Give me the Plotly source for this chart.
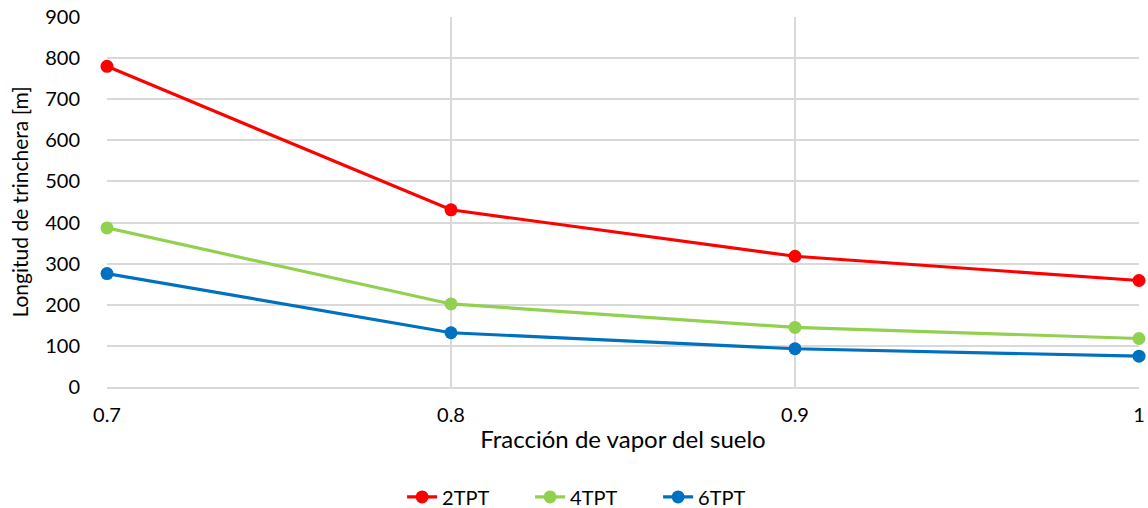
import plotly.graph_objects as go

x_vals = [0.7, 0.8, 0.9, 1.0]
x_labels = ["0.7", "0.8", "0.9", "1"]
series_names = ["2TPT", "4TPT", "6TPT"]
y_2tpt = [780, 431, 318, 259]
y_4tpt = [387, 202, 145, 118]
y_6tpt = [276, 132, 93, 75]
colors = ["#FF0000", "#92D050", "#0070C0"]

FONT = "Lato, 'Open Sans', sans-serif"

fig = go.Figure()
for name, ys, c in zip(series_names, [y_2tpt, y_4tpt, y_6tpt], colors):
    fig.add_trace(go.Scatter(
        x=x_vals, y=ys, name=name, mode="lines+markers",
        line=dict(color=c, width=3.2),
        marker=dict(color=c, size=13),
        cliponaxis=False,
    ))

fig.update_layout(
    width=1148, height=508,
    margin=dict(l=107, r=9, t=17, b=121, autoexpand=False),
    plot_bgcolor="white", paper_bgcolor="white",
    font=dict(family=FONT, size=20, color="#000000"),
    showlegend=True,
    legend=dict(orientation="h", x=0.472, xanchor="center", y=-0.297, yanchor="middle",
                font=dict(size=20), itemwidth=30, entrywidth=83, entrywidthmode="pixels",
                traceorder="normal"),
)
fig.update_xaxes(
    range=[0.7, 1.0], tickvals=x_vals, ticktext=x_labels,
    showgrid=True, gridcolor="#D9D9D9", gridwidth=1.5,
    showline=True, linecolor="#D9D9D9", linewidth=1.5,
    zeroline=False, ticks="", ticklabelstandoff=9, automargin=False,
    title=dict(text="Fracción de vapor del suelo", standoff=6, font=dict(size=24)),
)
fig.update_yaxes(
    range=[0, 900], dtick=100,
    showgrid=True, gridcolor="#D9D9D9", gridwidth=1.5,
    showline=False, zeroline=False, ticks="", ticklabelstandoff=26, automargin=False,
    title=dict(text="Longitud de trinchera [m]", standoff=10, font=dict(size=21)),
)

fig.write_html(
    "out.html",
    config={"displayModeBar": False},
    post_script="document.body.style.margin='0';document.body.style.padding='0';",
)
